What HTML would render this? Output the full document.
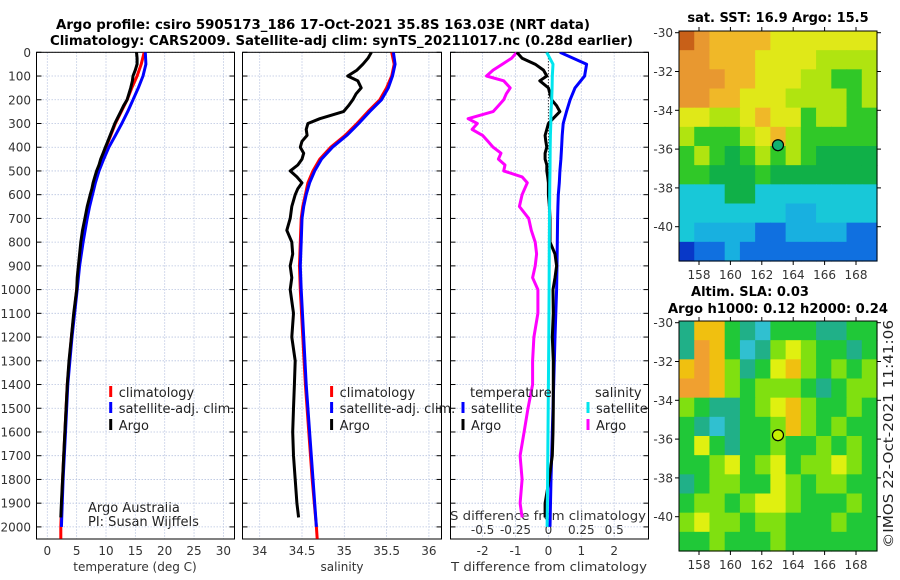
<!DOCTYPE html>
<html><head><meta charset="utf-8"><style>
body{margin:0;background:#fff;}
svg{display:block;font-family:"DejaVu Sans","Liberation Sans",sans-serif;}
.tk{font-size:12px;fill:#333;}
.lg{font-size:13px;fill:#222;}
.tt{font-size:13px;font-weight:bold;fill:#000;}
</style></head><body>
<svg id="c" width="900" height="580" viewBox="0 0 900 580">
<text class="tt" x="56" y="29" textLength="534" lengthAdjust="spacingAndGlyphs">Argo profile: csiro 5905173_186 17-Oct-2021 35.8S 163.03E (NRT data)</text>
<text class="tt" x="50" y="45" textLength="583" lengthAdjust="spacingAndGlyphs">Climatology: CARS2009. Satellite-adj clim: synTS_20211017.nc (0.28d earlier)</text>
<text class="tt" x="778" y="22" text-anchor="middle">sat. SST: 16.9 Argo: 15.5</text>
<text class="tt" x="750" y="296" text-anchor="middle">Altim. SLA: 0.03</text>
<text class="tt" x="778" y="313" text-anchor="middle" textLength="220" lengthAdjust="spacingAndGlyphs">Argo h1000: 0.12 h2000: 0.24</text>
<text class="lg" transform="translate(893,434) rotate(-90)" text-anchor="middle" textLength="228" lengthAdjust="spacingAndGlyphs">©IMOS 22-Oct-2021 11:41:06</text>
<text class="tk" x="135" y="571" text-anchor="middle" font-size="13">temperature (deg C)</text>
<text class="tk" x="342" y="571" text-anchor="middle" font-size="13">salinity</text>
<text class="tk" x="549" y="571" text-anchor="middle" font-size="13" textLength="196" lengthAdjust="spacingAndGlyphs">T difference from climatology</text>
<text class="tk" x="450" y="520" textLength="196" lengthAdjust="spacingAndGlyphs" font-size="13">S difference from climatology</text>
<text class="lg" x="88" y="512" font-size="11">Argo Australia</text>
<text class="lg" x="88" y="526" font-size="11">PI: Susan Wijffels</text>
</svg>
<script>
// ---- profile data ----
const argoDepth = [0,25,50,75,100,120,150,175,200,225,250,280,300,325,350,375,400,425,450,475,500,525,550,575,600,650,700,750,800,850,900,950,1000,1100,1200,1300,1400,1500,1600,1700,1800,1900,1960];
const argoTemp = [15.2,15.3,15.3,15.0,14.6,14.5,14.2,13.9,13.6,13.0,12.5,11.9,11.5,11.1,10.7,10.3,9.9,9.5,9.1,8.8,8.4,8.1,7.8,7.6,7.3,6.8,6.4,6.0,5.7,5.5,5.3,5.1,5.0,4.5,4.1,3.7,3.4,3.2,3.0,2.8,2.6,2.4,2.3];
const argoSal = [35.32,35.28,35.22,35.15,35.04,35.16,35.20,35.14,35.10,35.05,34.99,34.71,34.57,34.55,34.56,34.50,34.48,34.52,34.50,34.45,34.36,34.44,34.50,34.45,34.42,34.38,34.36,34.32,34.38,34.39,34.36,34.38,34.36,34.40,34.38,34.42,34.41,34.40,34.39,34.40,34.42,34.44,34.46];
const argoTdiff = [-0.96,-0.80,-0.40,-0.15,-0.05,-0.26,0.0,0.05,0.10,0.25,0.35,0.14,0.0,-0.05,-0.10,-0.08,-0.05,-0.10,-0.10,-0.05,-0.05,-0.02,0.0,0.0,0.0,0.03,0.05,0.05,0.05,0.2,0.25,0.2,0.14,0.15,0.12,0.15,0.15,0.15,0.14,0.12,0.02,-0.1,-0.1];
const argoSdiff = [-0.24,-0.28,-0.35,-0.42,-0.47,-0.34,-0.29,-0.32,-0.34,-0.38,-0.42,-0.61,-0.54,-0.58,-0.50,-0.46,-0.42,-0.36,-0.38,-0.33,-0.34,-0.20,-0.16,-0.18,-0.20,-0.22,-0.15,-0.13,-0.10,-0.09,-0.10,-0.12,-0.08,-0.08,-0.11,-0.12,-0.12,-0.155,-0.185,-0.215,-0.20,-0.215,-0.20];
const climDepth = [0,50,100,150,200,250,300,350,400,450,500,550,600,650,700,800,900,1000,1200,1400,1600,1800,2000,2050];
const climTemp = [16.5,16.0,15.3,14.4,13.6,12.6,11.6,10.8,10.0,9.2,8.5,7.9,7.4,6.9,6.5,5.8,5.4,5.0,4.1,3.4,3.0,2.6,2.3,2.3];
const climSal = [35.56,35.59,35.56,35.50,35.42,35.28,35.15,35.01,34.84,34.71,34.63,34.57,34.54,34.51,34.49,34.48,34.47,34.48,34.51,34.54,34.58,34.62,34.67,34.68];
const satDepth = [0,50,100,150,200,250,300,350,400,450,500,550,600,650,700,800,900,1000,1200,1400,1600,1800,2000];
const satTemp = [16.7,16.8,16.3,15.5,14.6,13.7,12.7,11.6,10.5,9.6,8.8,8.2,7.7,7.2,6.8,6.1,5.5,5.1,4.2,3.5,3.1,2.7,2.4];
const satSal = [35.58,35.60,35.57,35.52,35.44,35.30,35.17,35.03,34.86,34.73,34.65,34.59,34.55,34.52,34.50,34.49,34.48,34.49,34.52,34.55,34.59,34.63,34.67];
const satTdiff = [0.35,1.16,1.1,0.81,0.66,0.55,0.45,0.42,0.40,0.38,0.35,0.33,0.30,0.29,0.28,0.27,0.26,0.25,0.2,0.16,0.12,0.08,0.05];
const satSdiff = [-0.013,0.035,0.03,0.028,0.025,0.02,0.018,0.015,0.014,0.013,0.012,0.011,0.01,0.009,0.008,0.007,0.006,0.005,0.003,0.0,-0.003,-0.006,-0.01];
const depthTicks = [0,100,200,300,400,500,600,700,800,900,1000,1100,1200,1300,1400,1500,1600,1700,1800,1900,2000];
const tempTicks = [0,5,10,15,20,25,30];
const salTicks = [34,34.5,35,35.5,36];
const tdiffTicks = [-2,-1,0,1,2];
const sdiffTicks = [-0.5,-0.25,0,0.25,0.5];
const sdiffTickLabels = ["-0.5","-0.25","0","0.25","0.5"];
// ---- map data (1-degree cells, rows lat -30 downward, cols lon 156.7 eastward) ----
const sstGrid = [
[11,10,9,9,9,9,8,8,8,8,8,8,8],
[10,10,9,9,9,8,8,8,8,7,7,7,7],
[10,10,10,9,9,8,8,8,7,7,6,6,7],
[10,10,9,9,8,8,8,7,7,7,7,6,7],
[8,8,7,7,8,9,8,8,6,7,7,6,6],
[7,6,6,6,7,8,9,7,6,6,6,6,6],
[6,7,6,5,6,7,6,7,6,5,5,5,5],
[6,6,5,5,5,6,5,5,5,5,5,5,5],
[4,4,4,5,5,4,4,4,4,4,4,4,4],
[4,4,4,4,4,4,4,3,3,4,4,4,4],
[4,3,3,3,3,2,2,3,3,3,3,2,2],
[1,2,2,3,2,2,2,2,2,2,2,2,2]];
const slaGrid = [
[1,5,5,2,1,0,2,2,2,1,1,2,2],
[1,6,5,2,0,1,3,4,3,2,2,1,2],
[5,6,5,3,1,2,4,5,3,2,3,2,3],
[6,6,5,3,2,3,3,3,2,1,2,3,3],
[3,2,1,1,2,3,4,5,3,2,2,3,2],
[2,1,0,1,2,2,3,5,3,2,3,2,2],
[2,4,2,1,2,2,3,2,2,3,2,3,2],
[2,2,3,4,2,3,4,2,3,3,4,3,2],
[1,2,3,3,2,2,4,3,2,3,3,2,2],
[2,3,3,2,3,4,4,3,2,2,2,3,2],
[3,4,3,3,2,3,3,2,2,2,3,2,2],
[2,2,3,2,2,2,3,2,2,2,2,2,2]];
const latTicks = [-30,-32,-34,-36,-38,-40];
const lonTicks = [158,160,162,164,166,168];
const argoLon = 163.03, argoLat = -35.8;

const NS='http://www.w3.org/2000/svg';
const svg=document.getElementById('c');
function mk(tag,attrs,parent){const e=document.createElementNS(NS,tag);for(const k in attrs)e.setAttribute(k,attrs[k]);(parent||svg).appendChild(e);return e;}
const Y=d=>52.3+d*0.2373;
const TOP=52.3,BOT=539;
const panels=[
 {name:'temperature',x0:36.5,x1:234.5,sx:v=>47.3+5.87*v},
 {name:'salinity',x0:242.5,x1:441.5,sx:v=>259.7+84.6*(v-34)},
 {name:'difference',x0:450.5,x1:648.5,sx:v=>548.4+32.9*v}];
const sdx=v=>548.4+131.6*v;

let defs=mk('defs',{});
panels.forEach((p,i)=>{
  const cp=mk('clipPath',{id:'cp'+i},defs);
  mk('rect',{x:p.x0,y:TOP,width:p.x1-p.x0,height:BOT-TOP},cp);
  const ticks=i==0?tempTicks:i==1?salTicks:tdiffTicks;
  ticks.forEach(t=>{const g=mk('line',{x1:p.sx(t),x2:p.sx(t),y1:TOP,y2:BOT,stroke:'#b8c4e0','stroke-width':0.8,'stroke-dasharray':'1.5,1.5'});
    
    
    const tl=mk('text',{x:p.sx(t),y:555,'text-anchor':'middle',class:'tk'});tl.textContent=String(t);
    
    });
  depthTicks.forEach(d=>{const g=mk('line',{x1:p.x0,x2:p.x1,y1:Y(d),y2:Y(d),stroke:'#b8c4e0','stroke-width':0.8,'stroke-dasharray':'1.5,1.5'});
    
    
    const a=mk('line',{x1:p.x0,x2:p.x0+5,y1:Y(d),y2:Y(d),stroke:'#000'});
    
    
    const b=mk('line',{x1:p.x1-5,x2:p.x1,y1:Y(d),y2:Y(d),stroke:'#000'});
    
    });
  const fr=mk('rect',{x:p.x0,y:TOP,width:p.x1-p.x0,height:BOT-TOP,fill:'none',stroke:'#000','stroke-width':1});
  
  
});
depthTicks.forEach(d=>{const t=mk('text',{x:31,y:Y(d)+4.5,'text-anchor':'end',class:'tk'});t.textContent=String(d);
  
  });
sdiffTicks.forEach((s,i)=>{const t=mk('text',{x:sdx(s),y:534,'text-anchor':'middle',class:'tk'});t.textContent=sdiffTickLabels[i];
  
  });

function line(depths,vals,fx,color,pi,name,w){
  const pts=vals.map((v,k)=>fx(v).toFixed(1)+','+Y(depths[k]).toFixed(1)).join(' ');
  const e=mk('polyline',{points:pts,fill:'none',stroke:color,'stroke-width':w||3,'stroke-linejoin':'round','clip-path':'url(#cp'+pi+')'});
  
  
}
const P=panels;
line(climDepth,climTemp,P[0].sx,'#ff0000',0,'temp-climatology-line');
line(satDepth,satTemp,P[0].sx,'#0000ff',0,'temp-satellite-line');
line(argoDepth,argoTemp,P[0].sx,'#000',0,'temp-argo-line');
line(climDepth,climSal,P[1].sx,'#ff0000',1,'sal-climatology-line');
line(satDepth,satSal,P[1].sx,'#0000ff',1,'sal-satellite-line');
line(argoDepth,argoSal,P[1].sx,'#000',1,'sal-argo-line');
const z=mk('line',{x1:548.4,x2:548.4,y1:Y(0),y2:Y(900),stroke:'#000','stroke-width':1,'stroke-dasharray':'1,2'});


line(argoDepth,argoSdiff,sdx,'#ff00ff',2,'sdiff-argo-line');
line(satDepth,satTdiff,P[2].sx,'#0000ff',2,'tdiff-satellite-line');
line(argoDepth,argoTdiff,P[2].sx,'#000',2,'tdiff-argo-line');
line(satDepth,satSdiff,sdx,'#00e5ee',2,'sdiff-satellite-line');

function leg(x,y,color,label,name){
  const m=mk('line',{x1:x,x2:x,y1:y-6,y2:y+5,stroke:color,'stroke-width':3});
  
  
  if(label){const t=mk('text',{x:x+8,y:y+5,class:'lg'});t.textContent=label;
  
  }
}
leg(110.7,392,'#ff0000','climatology','legend-climatology');
leg(110.7,408,'#0000ff','satellite-adj. clim.','legend-satellite');
leg(110.7,425,'#000','Argo','legend-argo');
leg(331.6,392,'#ff0000','climatology','legend2-climatology');
leg(331.6,408,'#0000ff','satellite-adj. clim.','legend2-satellite');
leg(331.6,425,'#000','Argo','legend2-argo');
leg(463,408,'#0000ff','satellite','legend3-t-satellite');
leg(463,425,'#000','Argo','legend3-t-argo');
leg(588,408,'#00e5ee','satellite','legend3-s-satellite');
leg(588,425,'#ff00ff','Argo','legend3-s-argo');
let t1=mk('text',{x:470,y:397,class:'lg'});t1.textContent='temperature';


let t2=mk('text',{x:595,y:397,class:'lg'});t2.textContent='salinity';



const sstColors=['#0020a0','#0838c8','#1070e0','#18b0e0','#18c8d8','#10b048','#30c828','#b0e410','#e0e818','#f0b828','#e89830','#c86018'];
const slaColors=['#30c0d0','#20b088','#20c838','#80e010','#e0f010','#f0c010','#f0a030'];
function drawMap(grid,colors,top,name){
  const x0=679,x1=877,bot=top+230;
  const lx=lon=>699+15.7*(lon-158);
  const ly=lat=>(top+1.7)+19.4*(-30-lat);
  const cw=(x1-x0)/grid[0].length, ch=(bot-top)/grid.length;
  grid.forEach((row,r)=>row.forEach((v,c)=>{
    const e=mk('rect',{x:(x0+c*cw).toFixed(2),y:(top+r*ch).toFixed(2),width:(cw+0.6).toFixed(2),height:(ch+0.6).toFixed(2),fill:colors[v]});
    
    
  }));
  const fr=mk('rect',{x:x0,y:top,width:x1-x0,height:bot-top,fill:'none',stroke:'#000'});
  
  
  latTicks.forEach(l=>{
    const a=mk('line',{x1:x0-4,x2:x0,y1:ly(l),y2:ly(l),stroke:'#000'});
    
    
    const b=mk('line',{x1:x1,x2:x1+4,y1:ly(l),y2:ly(l),stroke:'#000'});
    
    
    const t=mk('text',{x:673,y:ly(l)+4.5,'text-anchor':'end',class:'tk'});t.textContent=String(l);
    
    
  });
  lonTicks.forEach(l=>{
    const a=mk('line',{x1:lx(l),x2:lx(l),y1:bot,y2:bot+4,stroke:'#000'});
    
    
    const b=mk('line',{x1:lx(l),x2:lx(l),y1:top-4,y2:top,stroke:'#000'});
    
    
    const t=mk('text',{x:lx(l),y:bot+18,'text-anchor':'middle',class:'tk'});t.textContent=String(l);
    
    
  });
  const m=mk('circle',{cx:lx(argoLon),cy:ly(argoLat),r:5.5,fill:name=='sst-map'?'#10b070':'#c8f000',stroke:'#000','stroke-width':1.2});
  
  
}
drawMap(sstGrid,sstColors,31,'sst-map');
drawMap(slaGrid,slaColors,321,'sla-map');
</script>
</body></html>
